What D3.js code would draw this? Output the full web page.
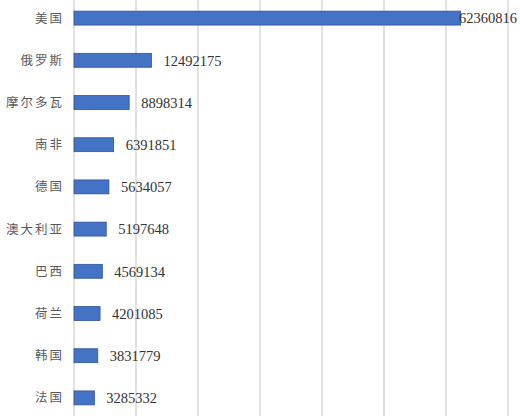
<!DOCTYPE html>
<html>
<head>
<meta charset="utf-8">
<script src="https://cdn.jsdelivr.net/npm/d3@7"></script>
<style>
  body { margin: 0; background: #fff; }
  svg { display: block; }
</style>
</head>
<body>
<svg width="520" height="416"></svg>
<script>
var width = 520;
var height = 416;

var countries = ["美国", "俄罗斯", "摩尔多瓦", "南非", "德国", "澳大利亚", "巴西", "荷兰", "韩国", "法国"];
var values = [62360816, 12492175, 8898314, 6391851, 5634057, 5197648, 4569134, 4201085, 3831779, 3285332];
var xTicks = [0, 10000000, 20000000, 30000000, 40000000, 50000000, 60000000, 70000000];

var data = countries.map((c, i) => ({ name: c, value: values[i] }));

var xScale = d3.scaleLinear()
                .domain([0, 70000000])
                .range([74, 508]);

var yScale = d3.scaleBand()
                .domain(countries)
                .range([-3, 419])
                .paddingInner(0.67)
                .paddingOuter(0.335);

var svg = d3.select("svg");

// vertical gridlines (the first one doubles as the category axis)
svg.append("g")
  .selectAll("line")
  .data(xTicks)
  .enter()
  .append("line")
    .attr("x1", d => xScale(d))
    .attr("x2", d => xScale(d))
    .attr("y1", 0)
    .attr("y2", height)
    .attr("stroke", "#d9d9d9")
    .attr("stroke-width", 1.5);

svg.append("g")
  .selectAll("rect")
  .data(data)
  .enter()
  .append("rect")
    .attr("x", xScale(0))
    .attr("y", d => yScale(d.name))
    .attr("width", d => xScale(d.value) - xScale(0))
    .attr("height", yScale.bandwidth())
    .attr("fill", "#4472c4")
    .attr("stroke", "#2f5597")
    .attr("stroke-width", 0.8);

// category labels
svg.append("g")
  .selectAll("text")
  .data(data)
  .enter()
  .append("text")
    .attr("x", xScale(0) - 10)
    .attr("y", d => yScale(d.name) + yScale.bandwidth() / 2)
    .attr("dy", "0.36em")
    .attr("text-anchor", "end")
    .attr("font-family", "'Noto Sans CJK SC', sans-serif")
    .attr("font-size", 12.5)
    .attr("letter-spacing", 2)
    .attr("fill", "#595959")
    .text(d => d.name);

// value labels, kept inside the picture
svg.append("g")
  .selectAll("text")
  .data(data)
  .enter()
  .append("text")
    .attr("y", d => yScale(d.name) + yScale.bandwidth() / 2)
    .attr("dy", "0.36em")
    .attr("font-family", "'Liberation Serif', serif")
    .attr("font-size", 14.5)
    .attr("fill", "#333")
    .text(d => d.value)
    .attr("x", function(d) {
      var w = this.getComputedTextLength();
      return Math.min(xScale(d.value) + 12, width - 3 - w);
    });
</script>
</body>
</html>
